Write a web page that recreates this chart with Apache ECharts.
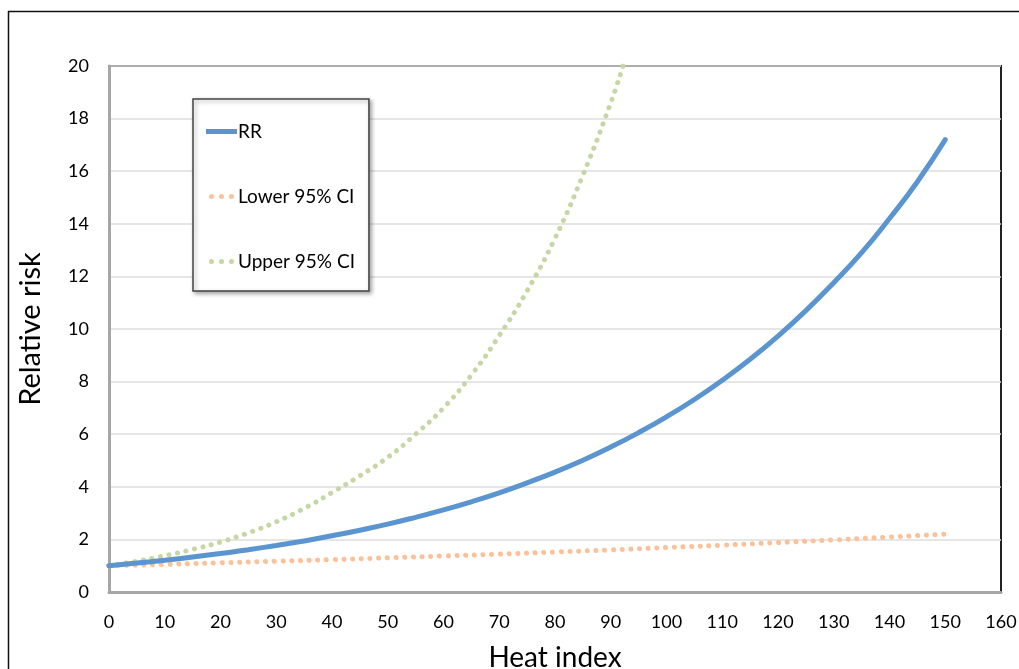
<!DOCTYPE html>
<html>
<head>
<meta charset="utf-8">
<script src="https://cdn.jsdelivr.net/npm/echarts@6/dist/echarts.min.js"></script>
<style>
html,body{margin:0;padding:0;background:#fff;}
#c{width:1019px;height:669px;}
</style>
</head>
<body>
<div id="c"></div>
<script>
// Heat index values (x) and series readings
const rrX = [0, 5, 10, 15, 20, 25, 30, 35, 40, 45, 50, 55, 60, 65, 70, 75, 80, 85, 90, 95, 100, 105, 110, 115, 120, 125, 130, 135, 140, 145, 150];
const rrY = [1.0, 1.1, 1.21, 1.33, 1.46, 1.61, 1.77, 1.94, 2.14, 2.35, 2.58, 2.84, 3.12, 3.43, 3.77, 4.15, 4.56, 5.01, 5.51, 6.06, 6.66, 7.32, 8.05, 8.85, 9.73, 10.7, 11.76, 12.9, 14.2, 15.6, 17.2];

const lowerX = [0, 10, 20, 30, 40, 50, 60, 70, 80, 90, 100, 110, 120, 130, 140, 150];
const lowerY = [1.0, 1.05, 1.11, 1.17, 1.23, 1.3, 1.37, 1.44, 1.52, 1.6, 1.69, 1.78, 1.88, 1.98, 2.09, 2.2];

const upperX = [0, 5, 10, 15, 20, 25, 30, 35, 40, 45, 50, 55, 60, 65, 70, 75, 80, 85, 90, 92.2];
const upperY = [1.0, 1.17, 1.38, 1.62, 1.9, 2.25, 2.67, 3.18, 3.78, 4.42, 5.12, 6.0, 7.0, 8.25, 9.75, 11.45, 13.45, 15.85, 18.6, 20.0];

const seriesNames = ['RR', 'Lower 95% CI', 'Upper 95% CI'];
const xTitle = 'Heat index';
const yTitle = 'Relative risk';

const pairs = (xs, ys) => xs.map((x, i) => [x, ys[i]]);

const FONT = 'Lato, "Open Sans", sans-serif';
const BLUE = '#5b95d0', ORANGE = '#fbc29a', GREEN = '#c6d7a5';
const dotsIcon = 'path://M0,2.5a2.5,2.5 0 1,0 5,0a2.5,2.5 0 1,0 -5,0z M10,2.5a2.5,2.5 0 1,0 5,0a2.5,2.5 0 1,0 -5,0z M20,2.5a2.5,2.5 0 1,0 5,0a2.5,2.5 0 1,0 -5,0z';
const lineIcon = 'path://M0,0h31v5h-31z';

const chart = echarts.init(document.getElementById('c'), null, {renderer: 'canvas'});
chart.setOption({
  animation: false,
  backgroundColor: '#fff',
  grid: {
    left: 109, top: 66, right: 18, bottom: 77,
    containLabel: false, outerBoundsMode: 'none',
    show: true, borderColor: '#222', borderWidth: 2, backgroundColor: 'transparent'
  },
  xAxis: {
    type: 'value', min: 0, max: 160, interval: 10,
    name: xTitle, nameLocation: 'middle', nameGap: 52,
    nameTextStyle: {fontFamily: FONT, fontSize: 28, color: '#000'},
    axisLine: {show: true, lineStyle: {color: '#a6a6a6', width: 3}},
    axisTick: {show: false},
    axisLabel: {fontFamily: FONT, fontSize: 18, color: '#000', margin: 21},
    splitLine: {show: false}
  },
  yAxis: {
    type: 'value', min: 0, max: 20, interval: 2,
    name: yTitle, nameLocation: 'middle', nameGap: 64, nameRotate: 90,
    nameTextStyle: {fontFamily: FONT, fontSize: 29, color: '#000'},
    axisLine: {show: true, lineStyle: {color: '#a6a6a6', width: 3}},
    axisTick: {show: false},
    axisLabel: {fontFamily: FONT, fontSize: 18, color: '#000', margin: 20},
    splitLine: {show: true, lineStyle: {color: '#dedede', width: 1.5}}
  },
  legend: {
    orient: 'vertical',
    left: 193, top: 99,
    padding: [23, 14, 20, 13],
    itemWidth: 31, itemHeight: 5, itemGap: 46,
    symbolKeepAspect: true,
    backgroundColor: '#fff',
    borderColor: '#444', borderWidth: 1.5,
    shadowColor: 'rgba(0,0,0,0.35)', shadowBlur: 4, shadowOffsetX: 2, shadowOffsetY: 2,
    textStyle: {fontFamily: FONT, fontSize: 19, color: '#000', padding: [0, 0, 0, -4]},
    data: [
      {name: seriesNames[0], icon: lineIcon},
      {name: seriesNames[1], icon: dotsIcon},
      {name: seriesNames[2], icon: dotsIcon}
    ]
  },
  graphic: [
    {type: 'line', shape: {x1: 8, y1: 11.5, x2: 1019, y2: 11.5}, style: {stroke: '#111', lineWidth: 1.5}, z: 100},
    {type: 'line', shape: {x1: 8.5, y1: 11, x2: 8.5, y2: 669}, style: {stroke: '#111', lineWidth: 1.5}, z: 100}
  ],
  series: [
    {
      name: seriesNames[0], type: 'line', smooth: true, showSymbol: false, symbol: 'none',
      data: pairs(rrX, rrY),
      lineStyle: {color: BLUE, width: 5, cap: 'round'},
      itemStyle: {color: BLUE}, z: 5
    },
    {
      name: seriesNames[1], type: 'line', smooth: true, showSymbol: false, symbol: 'none',
      data: pairs(lowerX, lowerY),
      lineStyle: {color: ORANGE, width: 5, type: [0.1, 8.6], cap: 'round'},
      itemStyle: {color: ORANGE}, z: 3
    },
    {
      name: seriesNames[2], type: 'line', smooth: true, showSymbol: false, symbol: 'none',
      data: pairs(upperX, upperY),
      lineStyle: {color: GREEN, width: 5, type: [0.1, 8.6], cap: 'round'},
      itemStyle: {color: GREEN}, z: 3
    }
  ]
});
</script>
</body>
</html>
